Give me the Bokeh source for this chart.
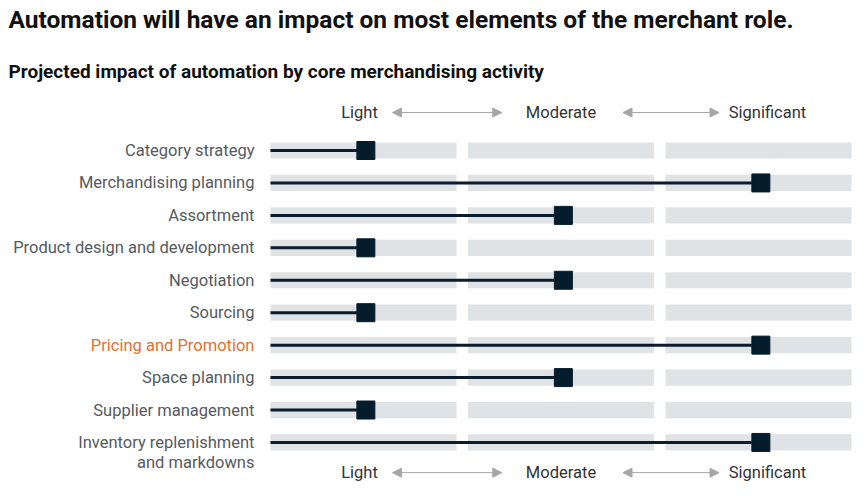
from bokeh.plotting import figure
from bokeh.models import Range1d, Label, Arrow, NormalHead, ColumnDataSource
from bokeh.core.properties import value
from bokeh.transform import dodge
from bokeh.embed import file_html
from bokeh.resources import INLINE

# Core merchandising activities and their projected automation impact
activities = [
    "Category strategy",
    "Merchandising planning",
    "Assortment",
    "Product design and development",
    "Negotiation",
    "Sourcing",
    "Pricing and Promotion",
    "Space planning",
    "Supplier management",
    "Inventory replenishment\nand markdowns",
]
# 1 = Light, 2 = Moderate, 3 = Significant
impact = [1, 3, 2, 1, 2, 1, 3, 2, 1, 3]
levels = [1, 2, 3]
level_names = ["Light", "Moderate", "Significant"]
highlight = "Pricing and Promotion"

W, H = 865, 496
PX_PER_LEVEL = 197.5      # horizontal pixels between level centres
PX_PER_ROW = 32.44        # vertical pixels between rows
LEVEL1_PX, ROW0_PX = 363.0, 150.0

x0 = 1 - LEVEL1_PX / PX_PER_LEVEL
x1 = x0 + W / PX_PER_LEVEL
y_top = -ROW0_PX / PX_PER_ROW
y_bot = y_top + H / PX_PER_ROW

p = figure(width=W, height=H, output_backend="svg", toolbar_location=None,
           x_range=Range1d(x0, x1), y_range=Range1d(y_bot, y_top),
           min_border=0, outline_line_color=None)
p.axis.visible = False
p.grid.visible = False
p.background_fill_color = "white"
p.border_fill_color = "white"

half = 0.471  # half width of a level band
rows = list(range(len(activities)))

# grey level bands behind each activity
band_y, band_l, band_r = [], [], []
for r in rows:
    for lv in levels:
        band_y.append(r)
        band_l.append(lv - half)
        band_r.append(lv + half)
p.hbar(y=band_y, left=band_l, right=band_r, height=0.5,
       fill_color="#e0e3e6", line_color=None)

# impact line and end marker (marker sits just right of the band centre)
start = levels[0] - half
src = ColumnDataSource(dict(y=rows, x0=[start] * len(rows), x1=impact))
p.segment(x0="x0", y0="y", x1=dodge("x1", 0.012), y1="y", source=src,
          line_color="#0b1d2d", line_width=3)
p.scatter(x=dodge("x1", 0.012), y="y", source=src, marker="square", size=18,
          fill_color="#051c2c", line_color="#051c2c")

# activity labels
for r, name in zip(rows, activities):
    parts = name.split("\n")
    color = "#e5702e" if name == highlight else "#555a5e"
    for k, part in enumerate(parts):
        p.text(x=[start], y=[r], text=[part], x_offset=-16, y_offset=k * 20,
               text_align="right", text_baseline="middle",
               text_font=value("Roboto"), text_font_size="16.5px",
               text_color=color)

# level scale above and below the chart
for yrow in (-1.17, 9.93):
    p.text(x=levels, y=[yrow] * 3, text=level_names, x_offset=[-4, 0, 9],
           text_align="center", text_baseline="middle",
           text_font=value("Roboto"), text_font_size="16.5px",
           text_color="#333333")
    for a, b in ((1.147, 1.70), (2.314, 2.80)):
        p.add_layout(Arrow(
            x_start=a, y_start=yrow, x_end=b, y_end=yrow,
            line_color="#a6a6a6", line_width=1,
            start=NormalHead(size=9, fill_color="#a6a6a6", line_color="#a6a6a6"),
            end=NormalHead(size=9, fill_color="#a6a6a6", line_color="#a6a6a6")))

p.add_layout(Label(x=8, y=H - 19, x_units="screen", y_units="screen",
                   text="Automation will have an impact on most elements of the merchant role.",
                   text_font="Roboto", text_font_size="24.5px",
                   text_font_style="bold", text_baseline="middle",
                   text_color="#111111"))
p.add_layout(Label(x=8, y=H - 71, x_units="screen", y_units="screen",
                   text="Projected impact of automation by core merchandising activity",
                   text_font="Roboto", text_font_size="19px",
                   text_font_style="bold", text_baseline="middle",
                   text_color="#111111"))

open("out.html", "w").write(file_html(p, INLINE))
